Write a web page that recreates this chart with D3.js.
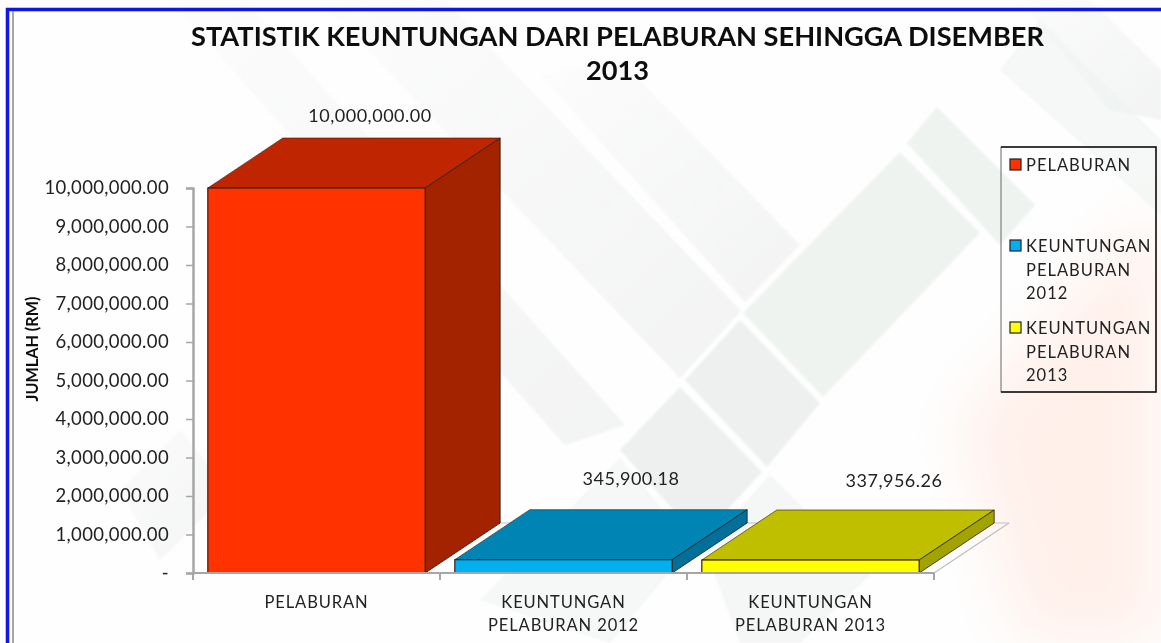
<!DOCTYPE html>
<html lang="en">
  <head>
    <meta charset="UTF-8" />
    <title>Statistik Keuntungan</title>
    <script src="https://cdn.jsdelivr.net/npm/d3@7"></script>
    <style>
      html, body { margin: 0; padding: 0; background: #fff; }
      svg { display: block; font-family: Lato, "Open Sans", sans-serif; }
    </style>
  </head>
  <body>
    <svg width="1161" height="643"></svg>
    <script>
      const categories = ["PELABURAN", "KEUNTUNGAN PELABURAN 2012", "KEUNTUNGAN PELABURAN 2013"];
      const categoryLines = [["PELABURAN"], ["KEUNTUNGAN", "PELABURAN 2012"], ["KEUNTUNGAN", "PELABURAN 2013"]];
      const values = [10000000, 345900.18, 337956.26];
      const valueLabels = ["10,000,000.00", "345,900.18", "337,956.26"];
      const yTicks = [0, 1000000, 2000000, 3000000, 4000000, 5000000, 6000000, 7000000, 8000000, 9000000, 10000000];
      const legendLines = [["PELABURAN"], ["KEUNTUNGAN", "PELABURAN", "2012"], ["KEUNTUNGAN", "PELABURAN", "2013"]];
      const frontColors = ["#ff3300", "#00b0f0", "#ffff00"];
      const topColors = ["#bf2600", "#0084b4", "#bfbf00"];
      const sideColors = ["#a32000", "#00709a", "#a3a300"];

      const svg = d3.select("svg");
      const depthX = 75, depthY = -50;

      const defs = svg.append("defs");
      defs.append("filter").attr("id", "soft").append("feGaussianBlur").attr("stdDeviation", 0.45);
      defs.append("filter").attr("id", "bgsoft").append("feGaussianBlur").attr("stdDeviation", 1.2);
      defs.append("filter").attr("id", "glow").attr("x", -0.5).attr("y", -0.5).attr("width", 2).attr("height", 2)
        .append("feGaussianBlur").attr("stdDeviation", 30);
      // bands fade out toward the upper left
      const fade = defs.append("linearGradient").attr("id", "fade")
        .attr("x1", 0).attr("y1", 0).attr("x2", 1).attr("y2", 1);
      fade.append("stop").attr("offset", 0).attr("stop-color", "#eeefef").attr("stop-opacity", 0.1);
      fade.append("stop").attr("offset", 1).attr("stop-color", "#eeefef").attr("stop-opacity", 0.75);

      // faded background pattern
      const bg = svg.append("g");
      bg.append("rect").attr("width", 1161).attr("height", 643).attr("fill", "#fefefe");
      bg.append("polygon").attr("points", "1161,200 960,420 1020,640 1161,643")
        .attr("fill", "#fff0ea").attr("filter", "url(#glow)");

      const bands = [
        [[170,0],[245,0],[625,425],[565,445]],
        [[320,0],[445,0],[741,311],[680,378]],
        [[540,75],[620,60],[800,245],[745,302]],
        [[1020,0],[1090,0],[1161,70],[1161,120],[1110,110]],
        [[120,490],[180,430],[230,490],[160,560]]
      ];
      const tiles = [
        [[743,313],[900,152],[980,233],[823,397]],
        [[740,320],[820,403],[767,467],[685,380]],
        [[937,107],[1035,205],[1000,245],[907,143]],
        [[680,387],[762,472],[700,540],[620,450]],
        [[620,458],[692,545],[610,643],[480,600]],
        [[705,548],[770,475],[870,575],[800,643],[740,643]],
        [[1040,20],[1161,140],[1161,215],[1000,70]]
      ];
      const soft = bg.append("g").attr("filter", "url(#bgsoft)");
      soft.selectAll("polygon.band").data(bands).join("polygon").attr("class", "band")
        .attr("points", d => d.join(" ")).attr("fill", "url(#fade)");
      soft.selectAll("polygon.tile").data(tiles).join("polygon").attr("class", "tile")
        .attr("points", d => d.join(" "))
        .attr("fill", (d, i) => i % 2 ? "#ebeded" : "#ebf1ed")
        .attr("opacity", (d, i) => i > 3 ? 0.5 : 0.85);

      const chart = svg.append("g").attr("filter", "url(#soft)");

      // outer frame
      chart.append("path").attr("d", "M7.5,643V9.5H1161").attr("fill", "none").attr("stroke", "#0a14e6").attr("stroke-width", 3.5);
      chart.append("path").attr("d", "M13,643V11").attr("fill", "none").attr("stroke", "#a6a6a6").attr("stroke-width", 2);

      // scales
      const x = d3.scaleBand().domain(categories).range([193, 934]).paddingInner(0.12).paddingOuter(0.06);
      const y = d3.scaleLinear().domain([0, 10000000]).range([573, 188]);
      const step = x.step();
      const edges = [0, 1, 2, 3].map(i => 193 + i * step);

      // floor behind the short bars
      chart.append("path")
        .attr("d", `M${edges[3]},${y(0)}l${depthX},${depthY}`)
        .attr("fill", "none").attr("stroke", "#bdbdbd").attr("stroke-width", 1.2);
      chart.append("path")
        .attr("d", `M${edges[0] + depthX},${y(0) + depthY}H${edges[3] + depthX}`)
        .attr("fill", "none").attr("stroke", "#c4c4c4").attr("stroke-width", 1.2);

      // 3d bars
      const bars = chart.selectAll("g.bar").data(categories).join("g").attr("class", "bar");
      bars.append("path") // top
        .attr("d", (d, i) => {
          const x0 = x(d), x1 = x0 + x.bandwidth(), t = y(values[i]);
          return `M${x0},${t}L${x1},${t}l${depthX},${depthY}L${x0 + depthX},${t + depthY}Z`;
        })
        .attr("fill", (d, i) => topColors[i]).attr("stroke", "#2a1a10").attr("stroke-width", 0.6);
      bars.append("path") // side
        .attr("d", (d, i) => {
          const x1 = x(d) + x.bandwidth(), t = y(values[i]), b = y(0);
          return `M${x1},${t}l${depthX},${depthY}V${b + depthY}L${x1},${b}Z`;
        })
        .attr("fill", (d, i) => sideColors[i]).attr("stroke", "#2a1a10").attr("stroke-width", 0.8);
      bars.append("rect") // front
        .attr("x", d => x(d)).attr("width", x.bandwidth())
        .attr("y", (d, i) => y(values[i])).attr("height", (d, i) => y(0) - y(values[i]))
        .attr("fill", (d, i) => frontColors[i]).attr("stroke", "#3a2015").attr("stroke-width", 1.2);

      // axes
      const yAxis = d3.axisLeft(y).tickValues(yTicks).tickSize(7).tickPadding(17)
        .tickFormat(d => d === 0 ? "-" : d3.format(",.2f")(d));
      const yG = chart.append("g").attr("transform", "translate(193,0)").call(yAxis);
      yG.select(".domain").attr("stroke", "#a6a6a6").attr("stroke-width", 2.5);
      yG.selectAll(".tick line").attr("stroke", "#a6a6a6").attr("stroke-width", 1.5);
      yG.selectAll("text").attr("font-family", "Lato").attr("font-size", 18.5).attr("fill", "#222")
        .attr("letter-spacing", 0.35);

      chart.append("g").selectAll("line").data(edges).join("line")
        .attr("x1", d => d).attr("x2", d => d).attr("y1", y(0)).attr("y2", y(0) + 7)
        .attr("stroke", "#a6a6a6").attr("stroke-width", 2);
      chart.append("line").attr("x1", 193).attr("x2", 934).attr("y1", y(0)).attr("y2", y(0))
        .attr("stroke", "#a6a6a6").attr("stroke-width", 1.8);

      // category labels
      const catText = chart.selectAll("text.cat").data(categories).join("text").attr("class", "cat")
        .attr("text-anchor", "middle").attr("font-size", 16.5).attr("fill", "#222").attr("letter-spacing", 0.9);
      catText.selectAll("tspan").data((d, i) => categoryLines[i].map(t => [t, d])).join("tspan")
        .attr("x", d => x(d[1]) + x.bandwidth() / 2)
        .attr("y", (d, i) => 608 + i * 23)
        .text(d => d[0]);

      // value labels
      const labelX = [370, 631, 894], labelY = [122, 485, 487];
      chart.selectAll("text.val").data(valueLabels).join("text").attr("class", "val")
        .attr("x", (d, i) => labelX[i]).attr("y", (d, i) => labelY[i])
        .attr("text-anchor", "middle").attr("font-size", 18).attr("fill", "#222").attr("letter-spacing", 0.5)
        .text(d => d);

      // y title
      chart.append("text").attr("transform", "translate(38,349) rotate(-90)")
        .attr("text-anchor", "middle").attr("font-size", 16.2).attr("font-weight", 700).attr("fill", "#111")
        .text("JUMLAH (RM)");

      // chart title
      chart.append("text").attr("x", 617.5).attr("y", 46).attr("text-anchor", "middle")
        .attr("font-size", 27.2).attr("font-weight", 700).attr("fill", "#0d0d0d")
        .text("STATISTIK KEUNTUNGAN DARI PELABURAN SEHINGGA DISEMBER");
      chart.append("text").attr("x", 617.5).attr("y", 80).attr("text-anchor", "middle")
        .attr("font-size", 27.2).attr("font-weight", 700).attr("fill", "#0d0d0d")
        .text("2013");

      // legend
      chart.append("rect").attr("x", 1001).attr("y", 147).attr("width", 155).attr("height", 245)
        .attr("fill", "none").attr("stroke", "#444").attr("stroke-width", 0.8);
      chart.append("path").attr("d", "M1001,147H1156V392H1001").attr("fill", "none").attr("stroke", "#111").attr("stroke-width", 1.5);
      const legendY = [171, 252, 334];
      const legend = chart.selectAll("g.leg").data(categories).join("g").attr("class", "leg")
        .attr("transform", (d, i) => `translate(1010,${legendY[i]})`);
      legend.append("rect").attr("y", -12).attr("width", 11).attr("height", 11)
        .attr("fill", (d, i) => frontColors[i]).attr("stroke", "#222").attr("stroke-width", 1.2);
      legend.append("text").attr("font-size", 16.5).attr("fill", "#222").attr("letter-spacing", 1)
        .selectAll("tspan").data((d, i) => legendLines[i]).join("tspan")
        .attr("x", 16).attr("y", (d, i) => i * 23.5).text(d => d);
    </script>
  </body>
</html>
